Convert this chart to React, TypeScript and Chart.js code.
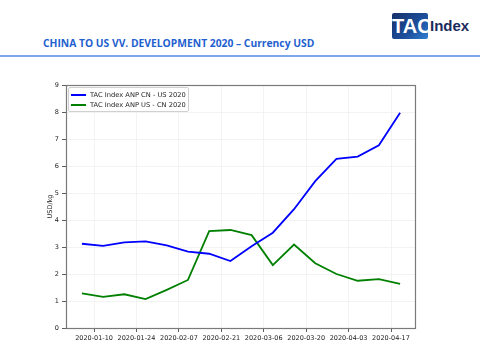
import React, { useEffect, useRef } from "react";
import { Chart, registerables } from "chart.js";

Chart.register(...registerables);

const dates = [
  "2020-01-06", "2020-01-13", "2020-01-20", "2020-01-27",
  "2020-02-03", "2020-02-10", "2020-02-17", "2020-02-24",
  "2020-03-02", "2020-03-09", "2020-03-16", "2020-03-23",
  "2020-03-30", "2020-04-06", "2020-04-13", "2020-04-20",
];
const cnToUs = [3.12, 3.04, 3.17, 3.21, 3.06, 2.83, 2.75, 2.48, 3.03, 3.53, 4.4, 5.44, 6.26, 6.35, 6.77, 7.97];
const usToCn = [1.28, 1.15, 1.25, 1.07, 1.41, 1.78, 3.59, 3.63, 3.44, 2.33, 3.09, 2.4, 2.0, 1.75, 1.81, 1.63];
const tickDates = [
  "2020-01-10", "2020-01-24", "2020-02-07", "2020-02-21",
  "2020-03-06", "2020-03-20", "2020-04-03", "2020-04-17",
];
const seriesNames = ["TAC Index ANP CN - US 2020", "TAC Index ANP US - CN 2020"];
const seriesColors = ["#0000ff", "#008000"];

const toDay = (s: string) => Date.parse(s + "T00:00:00Z") / 86400000;

const framePlugin = {
  id: "frame",
  afterDatasetsDraw(chart: any) {
    const { ctx, chartArea } = chart;
    ctx.save();
    ctx.strokeStyle = "#7a7a7a";
    ctx.lineWidth = 1.2;
    ctx.strokeRect(chartArea.left + 0.5, chartArea.top + 0.5, chartArea.right - chartArea.left - 1, chartArea.bottom - chartArea.top);
    ctx.restore();
  },
};

function ChartCanvas() {
  const ref = useRef<HTMLCanvasElement | null>(null);
  useEffect(() => {
    if (!ref.current) return;
    const xs = dates.map(toDay);
    const tickDays = tickDates.map(toDay);
    const span = xs[xs.length - 1] - xs[0];
    const font = { family: "DejaVu Sans", size: 6.5 };
    const chart = new Chart(ref.current, {
      type: "line",
      data: {
        datasets: [
          {
            label: seriesNames[0],
            data: xs.map((x, i) => ({ x, y: cnToUs[i] })),
            borderColor: seriesColors[0],
            backgroundColor: seriesColors[0],
            borderWidth: 1.8,
            pointRadius: 0,
            tension: 0,
          },
          {
            label: seriesNames[1],
            data: xs.map((x, i) => ({ x, y: usToCn[i] })),
            borderColor: seriesColors[1],
            backgroundColor: seriesColors[1],
            borderWidth: 1.8,
            pointRadius: 0,
            tension: 0,
          },
        ],
      },
      options: {
        animation: false,
        responsive: false,
        events: [],
        layout: { padding: { left: 46, right: 64, top: 85, bottom: 10 } },
        plugins: { legend: { display: false }, tooltip: { enabled: false } },
        scales: {
          x: {
            type: "linear",
            min: xs[0] - span * 0.05,
            max: xs[xs.length - 1] + span * 0.05,
            afterBuildTicks: (scale: any) => {
              scale.ticks = tickDays.map((v) => ({ value: v }));
            },
            afterFit: (scale: any) => {
              scale.height = 21;
            },
            border: { display: false },
            grid: { color: "#f0f0f0", tickColor: "#333", tickLength: 4, lineWidth: 0.8 },
            ticks: {
              font,
              color: "#222",
              padding: 2,
              maxRotation: 0,
              autoSkip: false,
              callback: (v: any) => {
                const i = tickDays.indexOf(Number(v));
                return i >= 0 ? tickDates[i] : "";
              },
            },
          },
          y: {
            min: 0,
            max: 9,
            afterFit: (scale: any) => {
              scale.width = 20;
            },
            border: { display: false },
            grid: { color: "#f0f0f0", tickColor: "#333", tickLength: 4, lineWidth: 0.8 },
            ticks: { stepSize: 1, font, color: "#222", padding: 3 },
            title: { display: true, text: "USD/kg", font, color: "#222", padding: 0 },
          },
        },
      },
      plugins: [framePlugin],
    } as any);
    return () => chart.destroy();
  }, []);
  return <canvas ref={ref} width={480} height={359} style={{ position: "absolute", left: 0, top: 0 }} />;
}

export default function App() {
  useEffect(() => {
    document.body.style.margin = "0";
  }, []);
  const legendFont = { fontFamily: "DejaVu Sans", fontSize: "6.7px", color: "#222" };
  return (
    <div style={{ position: "relative", width: 480, height: 359, background: "#fff", overflow: "hidden" }}>
      <div
        style={{
          position: "absolute",
          left: 43,
          top: 36,
          fontFamily: "'Open Sans', sans-serif",
          fontWeight: 700,
          fontSize: "10.3px",
          color: "#1f5fd0",
          whiteSpace: "nowrap",
        }}
      >
        CHINA TO US VV. DEVELOPMENT 2020 – Currency USD
      </div>
      <div style={{ position: "absolute", left: 0, top: 55, width: 480, height: 1.5, background: "#7ea6ea" }} />
      <div
        style={{
          position: "absolute",
          left: 392,
          top: 13,
          width: 36,
          height: 26,
          borderRadius: 2,
          background: "linear-gradient(135deg, #17306b 0%, #1d4f9c 60%, #2f7fd2 100%)",
          color: "#fff",
          fontFamily: "'Liberation Sans Narrow', 'Liberation Sans', sans-serif",
          fontWeight: 700,
          fontSize: "20px",
          lineHeight: "26px",
          textAlign: "center",
        }}
      >
        TAC
      </div>
      <div
        style={{
          position: "absolute",
          left: 430,
          top: 13,
          height: 26,
          color: "#1b2a5c",
          fontFamily: "'Liberation Sans Narrow', 'Liberation Sans', sans-serif",
          fontWeight: 700,
          fontSize: "15px",
          lineHeight: "26px",
        }}
      >
        Index
      </div>
      <ChartCanvas />
      <div
        style={{
          position: "absolute",
          left: 68,
          top: 87,
          width: 121,
          height: 25,
          border: "1px solid #d0d0d0",
          borderRadius: 2,
          background: "rgba(255,255,255,0.9)",
          boxSizing: "border-box",
        }}
      >
        {seriesNames.map((n, i) => (
          <div key={n} style={{ position: "absolute", left: 0, top: 2 + i * 10, height: 10, width: 118 }}>
            <div style={{ position: "absolute", left: 2, top: 4, width: 15, height: 1.8, background: seriesColors[i] }} />
            <div style={{ position: "absolute", left: 21, top: 0, lineHeight: "10px", whiteSpace: "nowrap", ...legendFont }}>{n}</div>
          </div>
        ))}
      </div>
    </div>
  );
}
